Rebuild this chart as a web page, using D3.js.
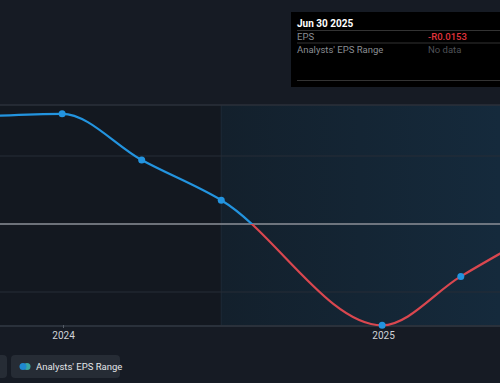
<!DOCTYPE html>
<html><head><meta charset="utf-8">
<script src="https://cdn.jsdelivr.net/npm/d3@7"></script>
<style>
html,body{margin:0;padding:0;background:#161b24;}
svg{display:block;font-family:Roboto,"Noto Sans",sans-serif;}
</style></head>
<body>
<svg id="c" width="500" height="383"></svg>
<script>
// data
const dates = ["2023-09-30","2023-12-31","2024-03-31","2024-06-30","2024-12-31","2025-03-31","2025-06-30"];
const eps = [0.0158, 0.0162, 0.0094, 0.0035, -0.0149, -0.0077, -0.0010];
const dotted = [false, true, true, true, true, true, false];
const tickLabels = ["2024","2025"];
const tickDates = ["2024-01-01","2025-01-01"];
const gridValues = [0.01, -0.01];
const forecastStart = "2024-06-30";
const tooltipTitle = "Jun 30 2025";
const tooltipRows = [["EPS","-R0.0153"],["Analysts' EPS Range","No data"]];
const legendLabels = ["Analysts' EPS Range"];

(function(){
const parse = d3.utcParse("%Y-%m-%d");
const pts = dates.map((d,i)=>({date:parse(d), v:eps[i], dot:dotted[i]}));

const W=500,H=383, plotTop=105, plotBottom=325;
const svg = d3.select("#c");
const x = d3.scaleUtc().domain([parse("2024-01-01"), parse("2025-01-01")]).range([63,383]);
const y = d3.scaleLinear().domain([-0.01485, 0.0175]).range([plotBottom, plotTop]);

const defs = svg.append("defs");
const grad = defs.append("linearGradient").attr("id","fg").attr("x1","0").attr("x2","1").attr("y1","0").attr("y2","0");
grad.append("stop").attr("offset","0%").attr("stop-color","#13202c");
grad.append("stop").attr("offset","100%").attr("stop-color","#152a3c");

const fx = x(parse(forecastStart));
svg.append("rect").attr("x",0).attr("y",plotTop).attr("width",fx).attr("height",plotBottom-plotTop).attr("fill","#131820");
svg.append("rect").attr("x",fx).attr("y",plotTop).attr("width",W-fx).attr("height",plotBottom-plotTop).attr("fill","url(#fg)");
svg.append("line").attr("x1",fx).attr("x2",fx).attr("y1",plotTop).attr("y2",plotBottom).attr("stroke","#1c2a37").attr("stroke-width",1);

// gridlines
svg.append("line").attr("x1",0).attr("x2",W).attr("y1",plotTop).attr("y2",plotTop).attr("stroke","#2b313a").attr("stroke-width",1.5);
gridValues.forEach(g=>{
  svg.append("line").attr("x1",0).attr("x2",W).attr("y1",y(g)).attr("y2",y(g)).attr("stroke","#262d36").attr("stroke-width",1.2);
});
svg.append("line").attr("x1",0).attr("x2",W).attr("y1",y(0)).attr("y2",y(0)).attr("stroke","#8c9198").attr("stroke-width",1.5);

// x axis
const axisG = svg.append("g").attr("transform",`translate(0,${plotBottom})`);
axisG.append("rect").attr("x",0).attr("y",0).attr("width",W).attr("height",2).attr("fill","#2a313b");
const ax = d3.axisBottom(x).tickValues(tickDates.map(parse)).tickFormat((d,i)=>tickLabels[i]).tickSize(3).tickPadding(4);
axisG.call(ax);
axisG.select(".domain").remove();
axisG.selectAll(".tick line").attr("stroke","#555c66");
axisG.selectAll(".tick text").attr("fill","#d0d3d8").attr("font-size",10).attr("font-family","Roboto,sans-serif");

// line, coloured by sign
const line = d3.line().x(d=>x(d.date)).y(d=>y(d.v)).curve(d3.curveMonotoneX);
defs.append("clipPath").attr("id","above").append("rect").attr("x",-50).attr("y",0).attr("width",W+100).attr("height",y(0));
defs.append("clipPath").attr("id","below").append("rect").attr("x",-50).attr("y",y(0)).attr("width",W+100).attr("height",H);
svg.append("path").datum(pts).attr("d",line).attr("fill","none").attr("stroke","#2394df").attr("stroke-width",2.2).attr("clip-path","url(#above)");
svg.append("path").datum(pts).attr("d",line).attr("fill","none").attr("stroke","#d9474f").attr("stroke-width",2.2).attr("clip-path","url(#below)");

svg.selectAll("circle.pt").data(pts.filter(d=>d.dot)).join("circle").attr("class","pt")
  .attr("cx",d=>x(d.date)).attr("cy",d=>y(d.v)).attr("r",3.5).attr("fill","#2394df");

// tooltip
const tt = svg.append("g").attr("transform","translate(291,12)");
tt.append("rect").attr("x",0).attr("y",0).attr("width",215).attr("height",75).attr("fill","#000");
tt.append("text").attr("x",6).attr("y",14.5).attr("fill","#fff").attr("font-size",10).attr("font-weight","bold").text(tooltipTitle);
tt.append("line").attr("x1",6).attr("x2",215).attr("y1",18.5).attr("y2",18.5).attr("stroke","#333");
tooltipRows.forEach((r,i)=>{
  const yy = 28 + i*12.5;
  tt.append("text").attr("x",6).attr("y",yy).attr("fill","#8a8d92").attr("font-size",9.5).text(r[0]);
  tt.append("text").attr("x",137).attr("y",yy).attr("fill", i===0?"#e0343c":"#4f5257").attr("font-size",9.5).attr("font-weight", i===0?"500":"normal").text(r[1]);
  if(i===0) tt.append("line").attr("x1",6).attr("x2",215).attr("y1",31).attr("y2",31).attr("stroke","#333");
});
tt.append("line").attr("x1",6).attr("x2",215).attr("y1",68.5).attr("y2",68.5).attr("stroke","#333");

// legend
const lg = svg.append("g");
lg.append("rect").attr("x",-20).attr("y",355).attr("width",27).attr("height",23).attr("rx",4).attr("fill","#262c35");
lg.append("rect").attr("x",11).attr("y",355).attr("width",109).attr("height",23).attr("rx",4).attr("fill","#262c35");
lg.append("circle").attr("cx",27).attr("cy",366.5).attr("r",3.5).attr("fill","#3aa6a0");
lg.append("circle").attr("cx",23).attr("cy",366.5).attr("r",3.5).attr("fill","#1f88d0");
lg.append("text").attr("x",36).attr("y",370).attr("fill","#e3e5e8").attr("font-size",9.5).text(legendLabels[0]);
})();
</script>
</body></html>
